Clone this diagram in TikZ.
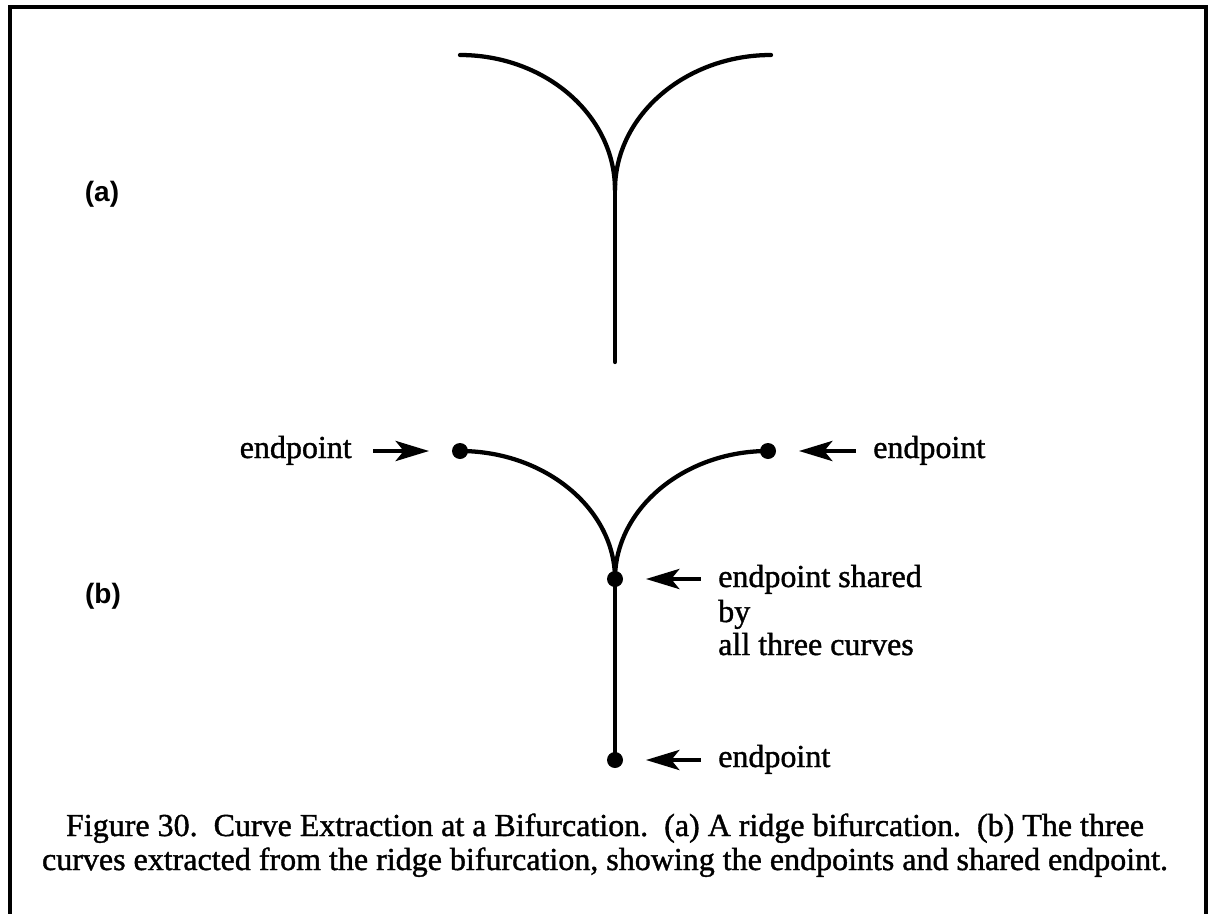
\documentclass[tikz,border=0pt]{standalone}
\usepackage{fontspec}
\setmainfont{Liberation Serif}[FakeBold=1.2]
\newfontfamily\labelfont{Liberation Sans}
\usetikzlibrary{arrows.meta}
\begin{document}
\begin{tikzpicture}[x=0.75pt,y=-0.75pt,
  curve/.style={line width=3.2pt, line cap=round},
  dot/.style={circle, fill, inner sep=0pt, minimum size=12pt},
  arr/.style={line width=3.4pt, -{Stealth[length=25pt,width=15pt,inset=6pt]}},
  txt/.style={font=\fontsize{24}{27}\selectfont, inner sep=0pt},
  lbl/.style={font=\labelfont\bfseries\fontsize{21}{24}\selectfont, inner sep=0pt}]
\useasboundingbox (0,0) rectangle (1208,914);
% open frame (left, top, right)
\draw[line width=3pt] (10,914) -- (10,7) -- (1206,7) -- (1206,914);

% (a) the ridge bifurcation
\node[lbl] (la) at (102,194) {(a)};
\coordinate (a1) at (460,55);
\coordinate (a2) at (771,55);
\coordinate (aj) at (615,190);
\coordinate (ab) at (615,362);
\draw[curve] (a1) .. controls (545,55) and (615,115) .. (aj);
\draw[curve] (a2) .. controls (686,55) and (615,115) .. (aj);
\draw[curve] (aj) -- (ab);

% (b) the three extracted curves
\node[lbl] (lb) at (103,596) {(b)};
\node[dot] (L) at (460,451) {};
\node[dot] (R) at (768,451) {};
\node[dot] (J) at (615,579) {};
\node[dot] (B) at (615,760) {};
\draw[curve] (L.center) .. controls (545,451) and (615,509) .. (J.center);
\draw[curve] (R.center) .. controls (684,451) and (615,509) .. (J.center);
\draw[curve] (J.center) -- (B.center);

% labels and pointers
\node[txt, anchor=base east] (tL) at (352,458) {endpoint};
\node[txt, anchor=base west] (tR) at (873,458) {endpoint};
\node[txt, anchor=base west] (tJ) at (718,587) {endpoint shared};
\node[txt, anchor=base west] (tJ2) at (718,622) {by};
\node[txt, anchor=base west] (tJ3) at (718,655) {all three curves};
\node[txt, anchor=base west] (tB) at (718,767) {endpoint};

\draw[arr] ([xshift=16]tL.east |- L) -- ([xshift=-17]L.west);
\draw[arr] ([xshift=-13]tR.west |- R) -- ([xshift=17]R.east);
\draw[arr] ([xshift=-13]tJ.west |- J) -- ([xshift=17]J.east);
\draw[arr] ([xshift=-13]tB.west |- B) -- ([xshift=17]B.east);

% caption
\node[txt, anchor=base] (cap1) at (605,836) {Figure 30.\ \ Curve Extraction at a Bifurcation.\ \ (a) A ridge bifurcation.\ \ (b) The three};
\node[txt, anchor=base] (cap2) at (605,870) {curves extracted from the ridge bifurcation, showing the endpoints and shared endpoint.};
\end{tikzpicture}
\end{document}
